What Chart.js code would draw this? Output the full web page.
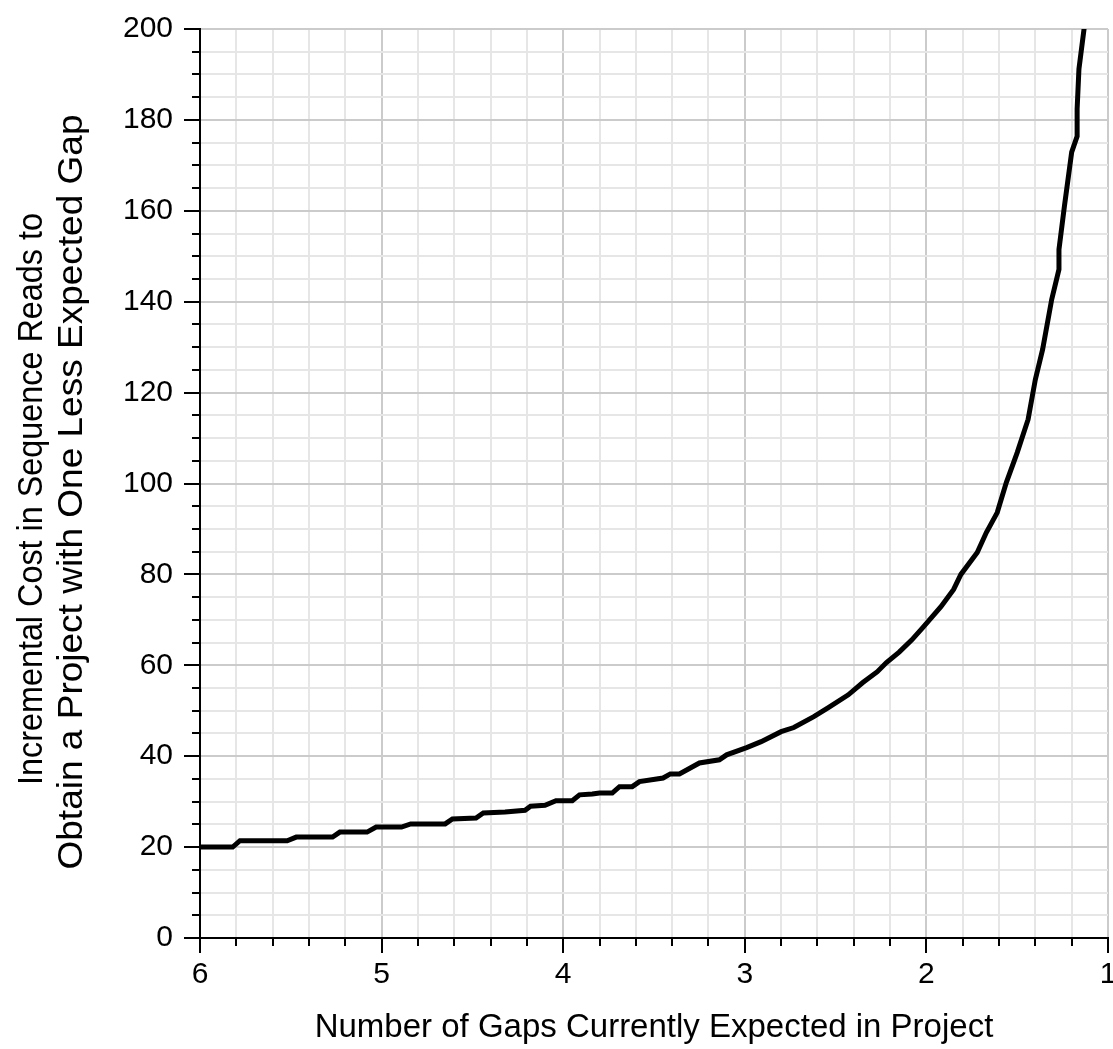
<!DOCTYPE html>
<html>
<head>
<meta charset="utf-8">
<script src="https://cdn.jsdelivr.net/npm/chart.js@4.4.1/dist/chart.umd.min.js"></script>
<style>
  html, body { margin: 0; padding: 0; background: #fff; }
  #wrap { width: 1113px; height: 1049px; }
</style>
</head>
<body>
<div id="wrap"><canvas id="gap_chart"></canvas></div>
<script>
// values
const gapsExpected = [6.00, 5.82, 5.78, 5.52, 5.47, 5.27, 5.23, 5.08, 5.03, 4.89, 4.84, 4.65, 4.61, 4.48, 4.44,
  4.32, 4.21, 4.18, 4.10, 4.04, 3.95, 3.91, 3.84, 3.80, 3.73, 3.69, 3.62, 3.58, 3.45, 3.41, 3.36,
  3.25, 3.14, 3.10, 2.99, 2.91, 2.80, 2.73, 2.62, 2.54, 2.43, 2.35, 2.27, 2.22, 2.15, 2.08,
  2.02, 1.92, 1.85, 1.81, 1.72, 1.67, 1.61, 1.56, 1.50, 1.44, 1.40, 1.36, 1.31, 1.27, 1.27,
  1.24, 1.20, 1.17, 1.17, 1.16, 1.13];
const incrementalCost = [20.0, 20.0, 21.4, 21.4, 22.2, 22.2, 23.3, 23.3, 24.4, 24.4, 25.1, 25.1, 26.2, 26.4, 27.5,
  27.7, 28.1, 29.0, 29.2, 30.2, 30.2, 31.5, 31.7, 31.9, 31.9, 33.3, 33.3, 34.4, 35.2, 36.1, 36.1,
  38.5, 39.2, 40.3, 41.9, 43.2, 45.4, 46.3, 48.7, 50.7, 53.5, 56.2, 58.6, 60.6, 62.9, 65.6,
  68.3, 72.9, 76.7, 80.0, 84.8, 89.2, 93.6, 100.2, 106.8, 114.1, 122.9, 129.5, 140.5, 147.1, 151.5,
  161.0, 172.9, 176.4, 182.4, 191.2, 200.6];
const xTickLabels = [6, 5, 4, 3, 2, 1];
const yTickLabels = [0, 20, 40, 60, 80, 100, 120, 140, 160, 180, 200];
const xTitle = "Number of Gaps Currently Expected in Project";
const yTitleLines = ["Incremental Cost in Sequence Reads to", "Obtain a Project with One Less Expected Gap"];

const points = gapsExpected.map((g, i) => ({ x: g, y: incrementalCost[i] }));
const isLabel = (list, v) => list.some(t => Math.abs(t - v) < 1e-6);
const tickFont = { family: "'Liberation Sans', Arial, sans-serif", size: 30 };

// outward tick marks, long at labelled values and short in between
const tickMarks = {
  id: "tickMarks",
  afterDraw(chart) {
    const ctx = chart.ctx;
    const xs = chart.scales.x, ys = chart.scales.y;
    ctx.save();
    ctx.strokeStyle = "#000";
    ctx.lineWidth = 2;
    xs.ticks.forEach(t => {
      const px = Math.round(xs.getPixelForValue(t.value));
      const len = isLabel(xTickLabels, t.value) ? 15 : 8;
      ctx.beginPath();
      ctx.moveTo(px, xs.top);
      ctx.lineTo(px, xs.top + len);
      ctx.stroke();
    });
    ys.ticks.forEach(t => {
      const py = Math.round(ys.getPixelForValue(t.value));
      const len = isLabel(yTickLabels, t.value) ? 16 : 8;
      ctx.beginPath();
      ctx.moveTo(ys.right, py);
      ctx.lineTo(ys.right - len, py);
      ctx.stroke();
    });
    ctx.restore();
  }
};

// condensed two-line y title, as in the reference
const yTitle = {
  id: "yTitle",
  afterDraw(chart) {
    const ctx = chart.ctx;
    const lengths = [572, 755], centers = [499, 492], baselines = [42, 82];
    ctx.save();
    ctx.font = "35px 'Liberation Sans', Arial, sans-serif";
    ctx.fillStyle = "#000";
    ctx.textAlign = "center";
    ctx.textBaseline = "alphabetic";
    yTitleLines.forEach((line, i) => {
      const sx = lengths[i] / ctx.measureText(line).width;
      ctx.save();
      ctx.translate(baselines[i], centers[i]);
      ctx.rotate(-Math.PI / 2);
      ctx.scale(sx, 1);
      ctx.fillText(line, 0, 0);
      ctx.restore();
    });
    ctx.restore();
  }
};

new Chart("gap_chart", {
  type: "scatter",
  data: {
    datasets: [{
      data: points,
      showLine: true,
      borderColor: "#000",
      borderWidth: 5,
      pointRadius: 0,
      tension: 0
    }]
  },
  options: {
    responsive: true,
    maintainAspectRatio: false,
    animation: false,
    layout: { padding: { top: 29, right: 5, left: 0, bottom: 0 } },
    plugins: { legend: { display: false }, tooltip: { enabled: false } },
    scales: {
      x: {
        type: "linear",
        reverse: true,
        min: 1,
        max: 6,
        afterFit: s => { s.height = 111; s.paddingLeft = 0; s.paddingRight = 0; },
        ticks: {
          stepSize: 0.2,
          autoSkip: false,
          maxRotation: 0,
          padding: 19,
          color: "#000",
          font: tickFont,
          callback: v => isLabel(xTickLabels, v) ? String(Math.round(v)) : ""
        },
        grid: {
          drawTicks: false,
          lineWidth: 2,
          color: c => isLabel(xTickLabels, c.tick.value) ? "#cbcbcb" : "#e6e6e6"
        },
        border: { color: "#000", width: 2 },
        title: {
          display: true,
          text: xTitle,
          color: "#000",
          font: { family: "'Liberation Sans', Arial, sans-serif", size: 33 },
          padding: { top: 0, bottom: 1 }
        }
      },
      y: {
        min: 0,
        max: 200,
        afterFit: s => { s.width = 200; s.paddingTop = 0; s.paddingBottom = 0; },
        ticks: {
          stepSize: 5,
          autoSkip: false,
          padding: 27,
          color: "#000",
          font: tickFont,
          callback: v => isLabel(yTickLabels, v) ? String(v) : ""
        },
        grid: {
          drawTicks: false,
          lineWidth: 2,
          color: c => isLabel(yTickLabels, c.tick.value) ? "#cbcbcb" : "#e6e6e6"
        },
        border: { color: "#000", width: 2 }
      }
    }
  },
  plugins: [tickMarks, yTitle]
});
</script>
</body>
</html>
